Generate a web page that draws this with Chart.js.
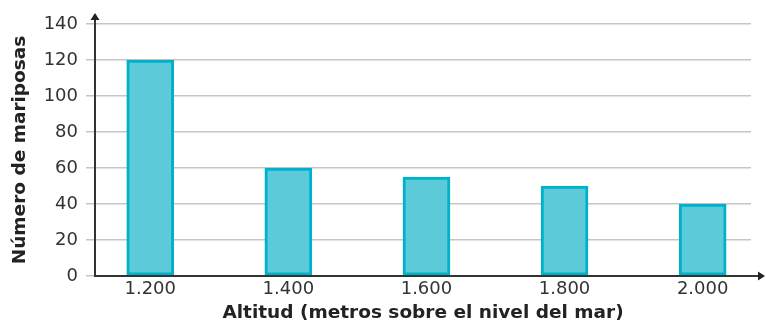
<!DOCTYPE html>
<html>
<head>
<meta charset="utf-8">
<script src="https://cdn.jsdelivr.net/npm/chart.js@4/dist/chart.umd.min.js"></script>
<style>
  html, body { margin: 0; padding: 0; background: #fff; }
  #grafico { display: block; }
</style>
</head>
<body>
<canvas id="grafico" width="766" height="324"></canvas>
<script>
// altitudes (m) and number of butterflies counted
var altitudes = [1200, 1400, 1600, 1800, 2000];
var etiquetasAltitud = ['1.200', '1.400', '1.600', '1.800', '2.000'];
var mariposas = [120, 60, 55, 50, 40];
var ticksY = [0, 20, 40, 60, 80, 100, 120, 140];

var puntos = altitudes.map(function (a, i) {
    return { x: a, y: mariposas[i] };
});

// draw both axes with an arrow at the end
var ejesConFlecha = {
    id: 'ejesConFlecha',
    afterDraw: function (chart) {
        var ctx = chart.ctx;
        var area = chart.chartArea;
        var y0 = chart.scales.y.getPixelForValue(0);
        var x0 = area.left;
        var topeY = area.top - 11;
        var topeX = chart.width - 1;
        ctx.save();
        ctx.strokeStyle = '#333';
        ctx.fillStyle = '#222';
        ctx.lineWidth = 2;
        ctx.beginPath();
        ctx.moveTo(x0, y0);
        ctx.lineTo(x0, topeY + 4);
        ctx.moveTo(x0 - 1, y0);
        ctx.lineTo(topeX - 4, y0);
        ctx.stroke();
        // arrow heads
        ctx.beginPath();
        ctx.moveTo(x0, topeY);
        ctx.lineTo(x0 - 4.5, topeY + 7);
        ctx.lineTo(x0 + 4.5, topeY + 7);
        ctx.closePath();
        ctx.fill();
        ctx.beginPath();
        ctx.moveTo(topeX, y0);
        ctx.lineTo(topeX - 7, y0 - 4.5);
        ctx.lineTo(topeX - 7, y0 + 4.5);
        ctx.closePath();
        ctx.fill();
        ctx.restore();
    }
};

new Chart(document.getElementById('grafico'), {
    type: 'bar',
    data: {
        datasets: [{
            data: puntos,
            backgroundColor: '#5ccad9',
            borderColor: '#00b2c9',
            borderWidth: 3,
            borderSkipped: false,
            barThickness: 47
        }]
    },
    options: {
        responsive: false,
        animation: false,
        layout: { padding: { top: 24, right: 15, bottom: 0, left: 0 } },
        plugins: {
            legend: { display: false },
            tooltip: { enabled: false }
        },
        scales: {
            x: {
                type: 'linear',
                offset: false,
                min: 1120,
                max: 2070,
                afterBuildTicks: function (scale) {
                    scale.ticks = altitudes.map(function (v) { return { value: v }; });
                },
                afterFit: function (scale) { scale.height = 48; },
                grid: { display: false, drawTicks: false, offset: false },
                border: { display: false },
                ticks: {
                    padding: 3,
                    maxRotation: 0,
                    autoSkip: false,
                    color: '#333',
                    font: { family: 'DejaVu Sans', size: 18 },
                    callback: function (v) { return etiquetasAltitud[altitudes.indexOf(v)]; }
                },
                title: {
                    display: true,
                    text: 'Altitud (metros sobre el nivel del mar)',
                    color: '#222',
                    padding: { top: 0, bottom: 0 },
                    font: { family: 'DejaVu Sans', size: 18.5, weight: 'bold' }
                }
            },
            y: {
                min: 0,
                max: 140,
                afterBuildTicks: function (scale) {
                    scale.ticks = ticksY.map(function (v) { return { value: v }; });
                },
                afterFit: function (scale) { scale.width = 95; },
                grid: { color: '#c6c6c6', lineWidth: 1.5, tickLength: 9 },
                border: { display: false },
                ticks: {
                    padding: 8,
                    color: '#333',
                    font: { family: 'DejaVu Sans', size: 18 }
                },
                title: {
                    display: true,
                    text: 'Número de mariposas',
                    color: '#222',
                    padding: { top: 9, bottom: 0 },
                    font: { family: 'DejaVu Sans', size: 18.5, weight: 'bold' }
                }
            }
        }
    },
    plugins: [ejesConFlecha]
});
</script>
</body>
</html>
